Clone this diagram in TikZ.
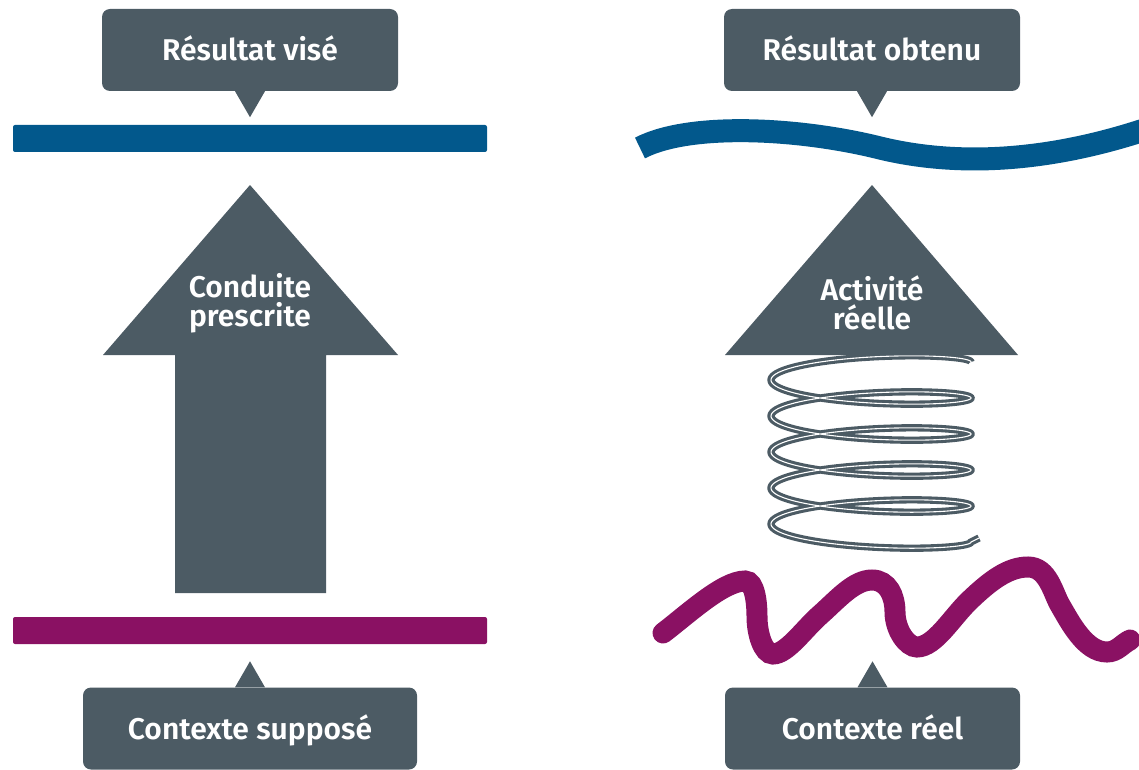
\documentclass[tikz,border=0pt]{standalone}
\usepackage{fontspec}
\setmainfont{Fira Sans}
\newfontfamily\lblfont{Fira Sans}[UprightFont={* SemiBold}]
\definecolor{slate}{HTML}{4C5B64}
\definecolor{ublue}{HTML}{02588C}
\definecolor{umag}{HTML}{8A1163}
\tikzset{
  callout/.style={fill=slate, rounded corners=8pt, text=white,
    font=\fontsize{30}{30}\selectfont\lblfont, text height=21pt, text depth=0pt,
    inner sep=0pt, minimum height=82pt},
  arrowtext/.style={text=white, font=\fontsize{30}{29}\selectfont\lblfont, align=center, inner sep=0pt},
  pointer/.style={fill=slate},
  bar/.style={rounded corners=2pt},
}
\begin{document}
\begin{tikzpicture}[x=1pt,y=-1pt]
\useasboundingbox (0,0) rectangle (1139,770);
\clip (0,0) rectangle (1139,770);

% ---------- left side ----------
\node[callout, minimum width=296pt] (rv) at (250,50) {Résultat visé};
\fill[pointer] ([xshift=-15pt]rv.south) -- ++(15pt,-26pt) -- ++(15pt,26pt) -- cycle;
\fill[ublue, bar] (13,125) rectangle (487,152);

\fill[slate] (250,185) -- (398,355) -- (326,355) -- (326,593) -- (175,593) -- (175,355) -- (103,355) -- cycle;
\node[arrowtext] (cp) at (250,303) {Conduite\\prescrite};

\fill[umag, bar] (13,617) rectangle (487,644);
\node[callout, minimum width=334pt] (cs) at (250,728.5) {Contexte supposé};
\fill[pointer] ([xshift=-15pt]cs.north) -- ++(15pt,26pt) -- ++(15pt,-26pt) -- cycle;

% ---------- right side ----------
\node[callout, minimum width=296pt] (ro) at (872,50) {Résultat obtenu};
\fill[pointer] ([xshift=-15pt]ro.south) -- ++(15pt,-26pt) -- ++(15pt,26pt) -- cycle;
\draw[ublue, line width=23pt] (640,148) .. controls (690,122) and (800,128) .. (880,148)
  .. controls (950,165) and (1040,165) .. (1150,128);

% spring
\draw[slate, line width=3.1pt, double=white, double distance=1.1pt]
  plot[domain=0:1800, samples=600, smooth, variable=\t]
  ({871+100*cos(\t)}, {362+0.1*\t-14*sin(\t)})
  -- ++(8,-4);

\fill[slate] (872,185) -- (1018,355) -- (725,355) -- cycle;
\node[arrowtext] (ar) at (872,303) {Activité\\réelle};

\draw[umag, line width=21pt, line cap=round]
  (663,633) .. controls (688,614) and (723,581) .. (745,581)
  .. controls (755,581) and (757,603) .. (757,617)
  .. controls (757,633) and (763,654) .. (773,654)
  .. controls (787,654) and (804,629) .. (820,615)
  .. controls (838,599) and (854,580) .. (872,580)
  .. controls (888,580) and (895,596) .. (895,612)
  .. controls (895,630) and (907,647) .. (917,647)
  .. controls (935,647) and (952,617) .. (970,600)
  .. controls (990,581) and (1008,567) .. (1028,567)
  .. controls (1048,567) and (1053,593) .. (1060,605)
  .. controls (1070,622) and (1085,652) .. (1107,652)
  .. controls (1117,652) and (1122,644) .. (1130,640);

\node[callout, minimum width=295pt] (cr) at (872.5,728.5) {Contexte réel};
\fill[pointer] ([xshift=-15pt]cr.north) -- ++(15pt,26pt) -- ++(15pt,-26pt) -- cycle;
\end{tikzpicture}
\end{document}
